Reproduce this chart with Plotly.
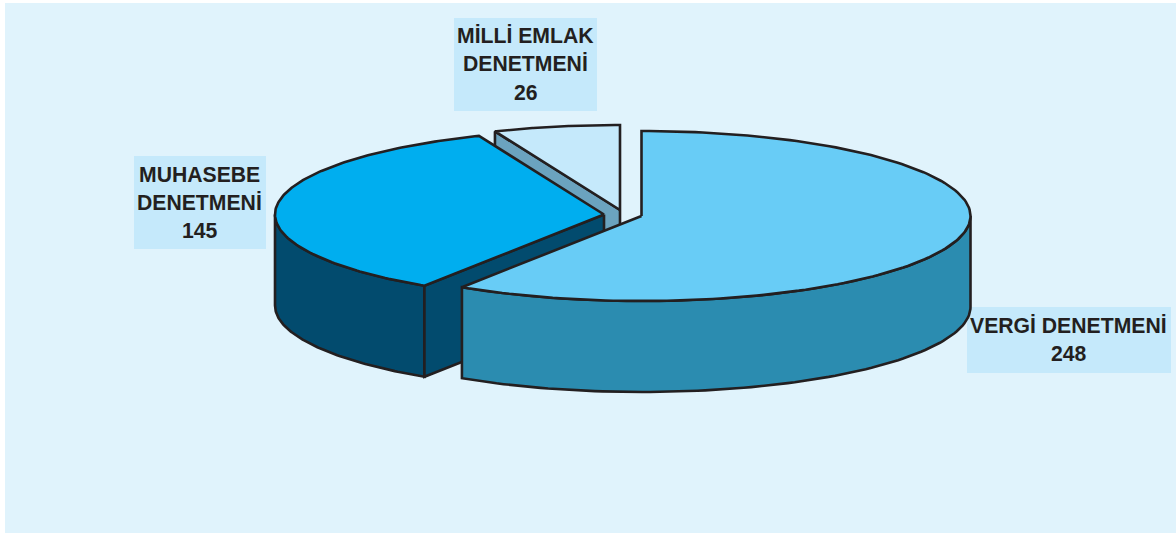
import numpy as np
import plotly.graph_objects as go

# ---- data ----
categories = ["VERGİ DENETMENİ", "MUHASEBE DENETMENİ", "MİLLİ EMLAK DENETMENİ"]
values = [248, 145, 26]
label_lines = [["VERGİ DENETMENİ"], ["MUHASEBE", "DENETMENİ"], ["MİLLİ EMLAK", "DENETMENİ"]]

# ---- style ----
W, H = 1176, 534
RX, RY, DEPTH = 329, 85, 91
centers = [(641.5, 216), (604, 214.5), (620, 210)]
top_colors = ["#68CCF6", "#00AEEF", "#C5E9FB"]
wall_colors = ["#2B8CB0", "#024B6E", "#6BA3BF"]
inner_wall = [False, True, True]
draw_order = [2, 1, 0]
boxes = [(967, 307, 1171, 373), (134, 156, 266, 249), (454, 18, 597, 111)]
text_x = [1068.5, 199.5, 525.5]
text_y = [[325, 353], [174, 202, 230], [35, 63, 92]]
INK = "#231F20"
BG = "#E0F3FC"
BOX = "#C5E9FB"
FONT = dict(family="Liberation Sans", size=21.2, color=INK)
LW = 2.6

fractions = np.array(values) / sum(values)
ends = np.cumsum(fractions) * 2 * np.pi
starts = ends - fractions * 2 * np.pi


def point(c, t, dy=0.0):
    return c[0] + RX * np.sin(t), c[1] - RY * np.cos(t) + dy


def poly(xs, ys, fill):
    return go.Scatter(
        x=list(xs) + [xs[0]], y=list(ys) + [ys[0]], mode="lines", fill="toself",
        fillcolor=fill, line=dict(color=INK, width=LW), hoverinfo="skip", showlegend=False,
    )


fig = go.Figure()
for i in draw_order:
    c, a, b = centers[i], starts[i], ends[i]
    # outer front wall: the part of the arc that faces the viewer
    lo, hi = max(a, np.pi / 2), min(b, 3 * np.pi / 2)
    if hi > lo:
        t = np.linspace(lo, hi, 90)
        x0, y0 = point(c, t)
        x1, y1 = point(c, t[::-1], DEPTH)
        fig.add_trace(poly(np.r_[x0, x1], np.r_[y0, y1], wall_colors[i]))
    # cut face along the start radius
    if inner_wall[i]:
        px, py = point(c, a)
        fig.add_trace(poly([c[0], px, px, c[0]], [c[1], py, py + DEPTH, c[1] + DEPTH], wall_colors[i]))
    # top face
    t = np.linspace(a, b, 160)
    x0, y0 = point(c, t)
    fig.add_trace(poly(np.r_[c[0], x0], np.r_[c[1], y0], top_colors[i]))

shapes = [dict(type="rect", xref="x", yref="y", x0=5, y0=3, x1=W, y1=533,
               fillcolor=BG, line_width=0, layer="below")]
annotations = []
for i, cat in enumerate(categories):
    x0, y0, x1, y1 = boxes[i]
    shapes.append(dict(type="rect", xref="x", yref="y", x0=x0, y0=y0, x1=x1, y1=y1,
                       fillcolor=BOX, line_width=0, layer="below"))
    lines = label_lines[i] + [str(values[i])]
    for line, y in zip(lines, text_y[i]):
        annotations.append(dict(x=text_x[i], y=y, xref="x", yref="y", text=f"<b>{line}</b>",
                                showarrow=False, xanchor="center", yanchor="middle", font=FONT))

fig.update_layout(
    width=W, height=H, margin=dict(l=0, r=0, t=0, b=0),
    paper_bgcolor="white", plot_bgcolor="white", showlegend=False,
    xaxis=dict(range=[0, W], visible=False, fixedrange=True),
    yaxis=dict(range=[H, 0], visible=False, fixedrange=True),
    shapes=shapes, annotations=annotations,
)
fig.write_html("out.html", post_script="document.body.style.margin='0';document.body.style.overflow='hidden';",
               config=dict(displayModeBar=False))
